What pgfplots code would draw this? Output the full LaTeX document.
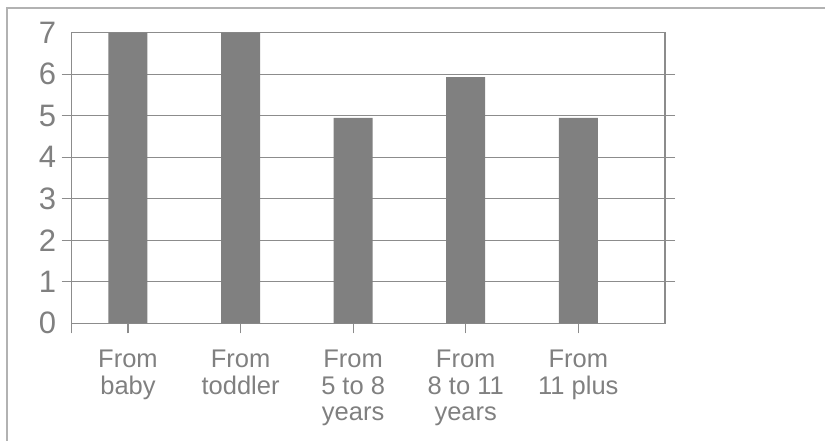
\documentclass[border=0pt]{standalone}
\usepackage{fontspec}
\setmainfont{Liberation Sans}
\usepackage{pgfplots}
\pgfplotsset{compat=1.18}
\definecolor{bargray}{RGB}{128,128,128}
\definecolor{txtgray}{RGB}{128,128,128}
\definecolor{axgray}{RGB}{140,140,140}
\definecolor{framegray}{RGB}{178,178,178}
\begin{document}
\begin{tikzpicture}
\path[use as bounding box, clip] (-71.7bp,-117.7bp) rectangle (753.3bp,323.3bp);
\draw[framegray, line width=1.5bp] (760bp,315.3bp) -- (-64.7bp,315.3bp) -- (-64.7bp,-125bp);
\begin{axis}[
  at={(0,0)}, anchor=south west,
  scale only axis, width=593.3bp, height=290.6bp,
  ymin=0, ymax=7, xmin=-0.5, xmax=4.77,
  axis line style={draw=axgray, line width=1.2bp},
  ybar, bar width=39bp,
  xtick={-0.5,0,1,2,3,4},
  xticklabels={{},{From\\baby},{From\\toddler},{From\\5 to 8\\years},{From\\8 to 11\\years},{From\\11 plus}},
  x tick label style={align=center, font=\fontsize{25.5bp}{26.8bp}\selectfont, text=txtgray, anchor=north, yshift=-13bp},
  y tick label style={font=\fontsize{31bp}{31bp}\selectfont, text=txtgray, xshift=-2bp},
  /pgf/number format/assume math mode=true,
  ytick={1,...,6},
  extra y ticks={0,7},
  extra y tick style={grid=none, tick style={draw=none}},
  ymajorgrids,
  grid style={draw=axgray, line width=1.2bp},
  tick align=outside,
  xtick pos=bottom,
  ytick pos=both,
  yticklabel pos=left,
  major tick length=10bp,
  tick style={draw=axgray, line width=1.2bp},
]
\addplot[fill=bargray, draw=none] coordinates {(0,7) (1,7) (2,4.95) (3,5.93) (4,4.95)};
\end{axis}
\end{tikzpicture}
\end{document}
